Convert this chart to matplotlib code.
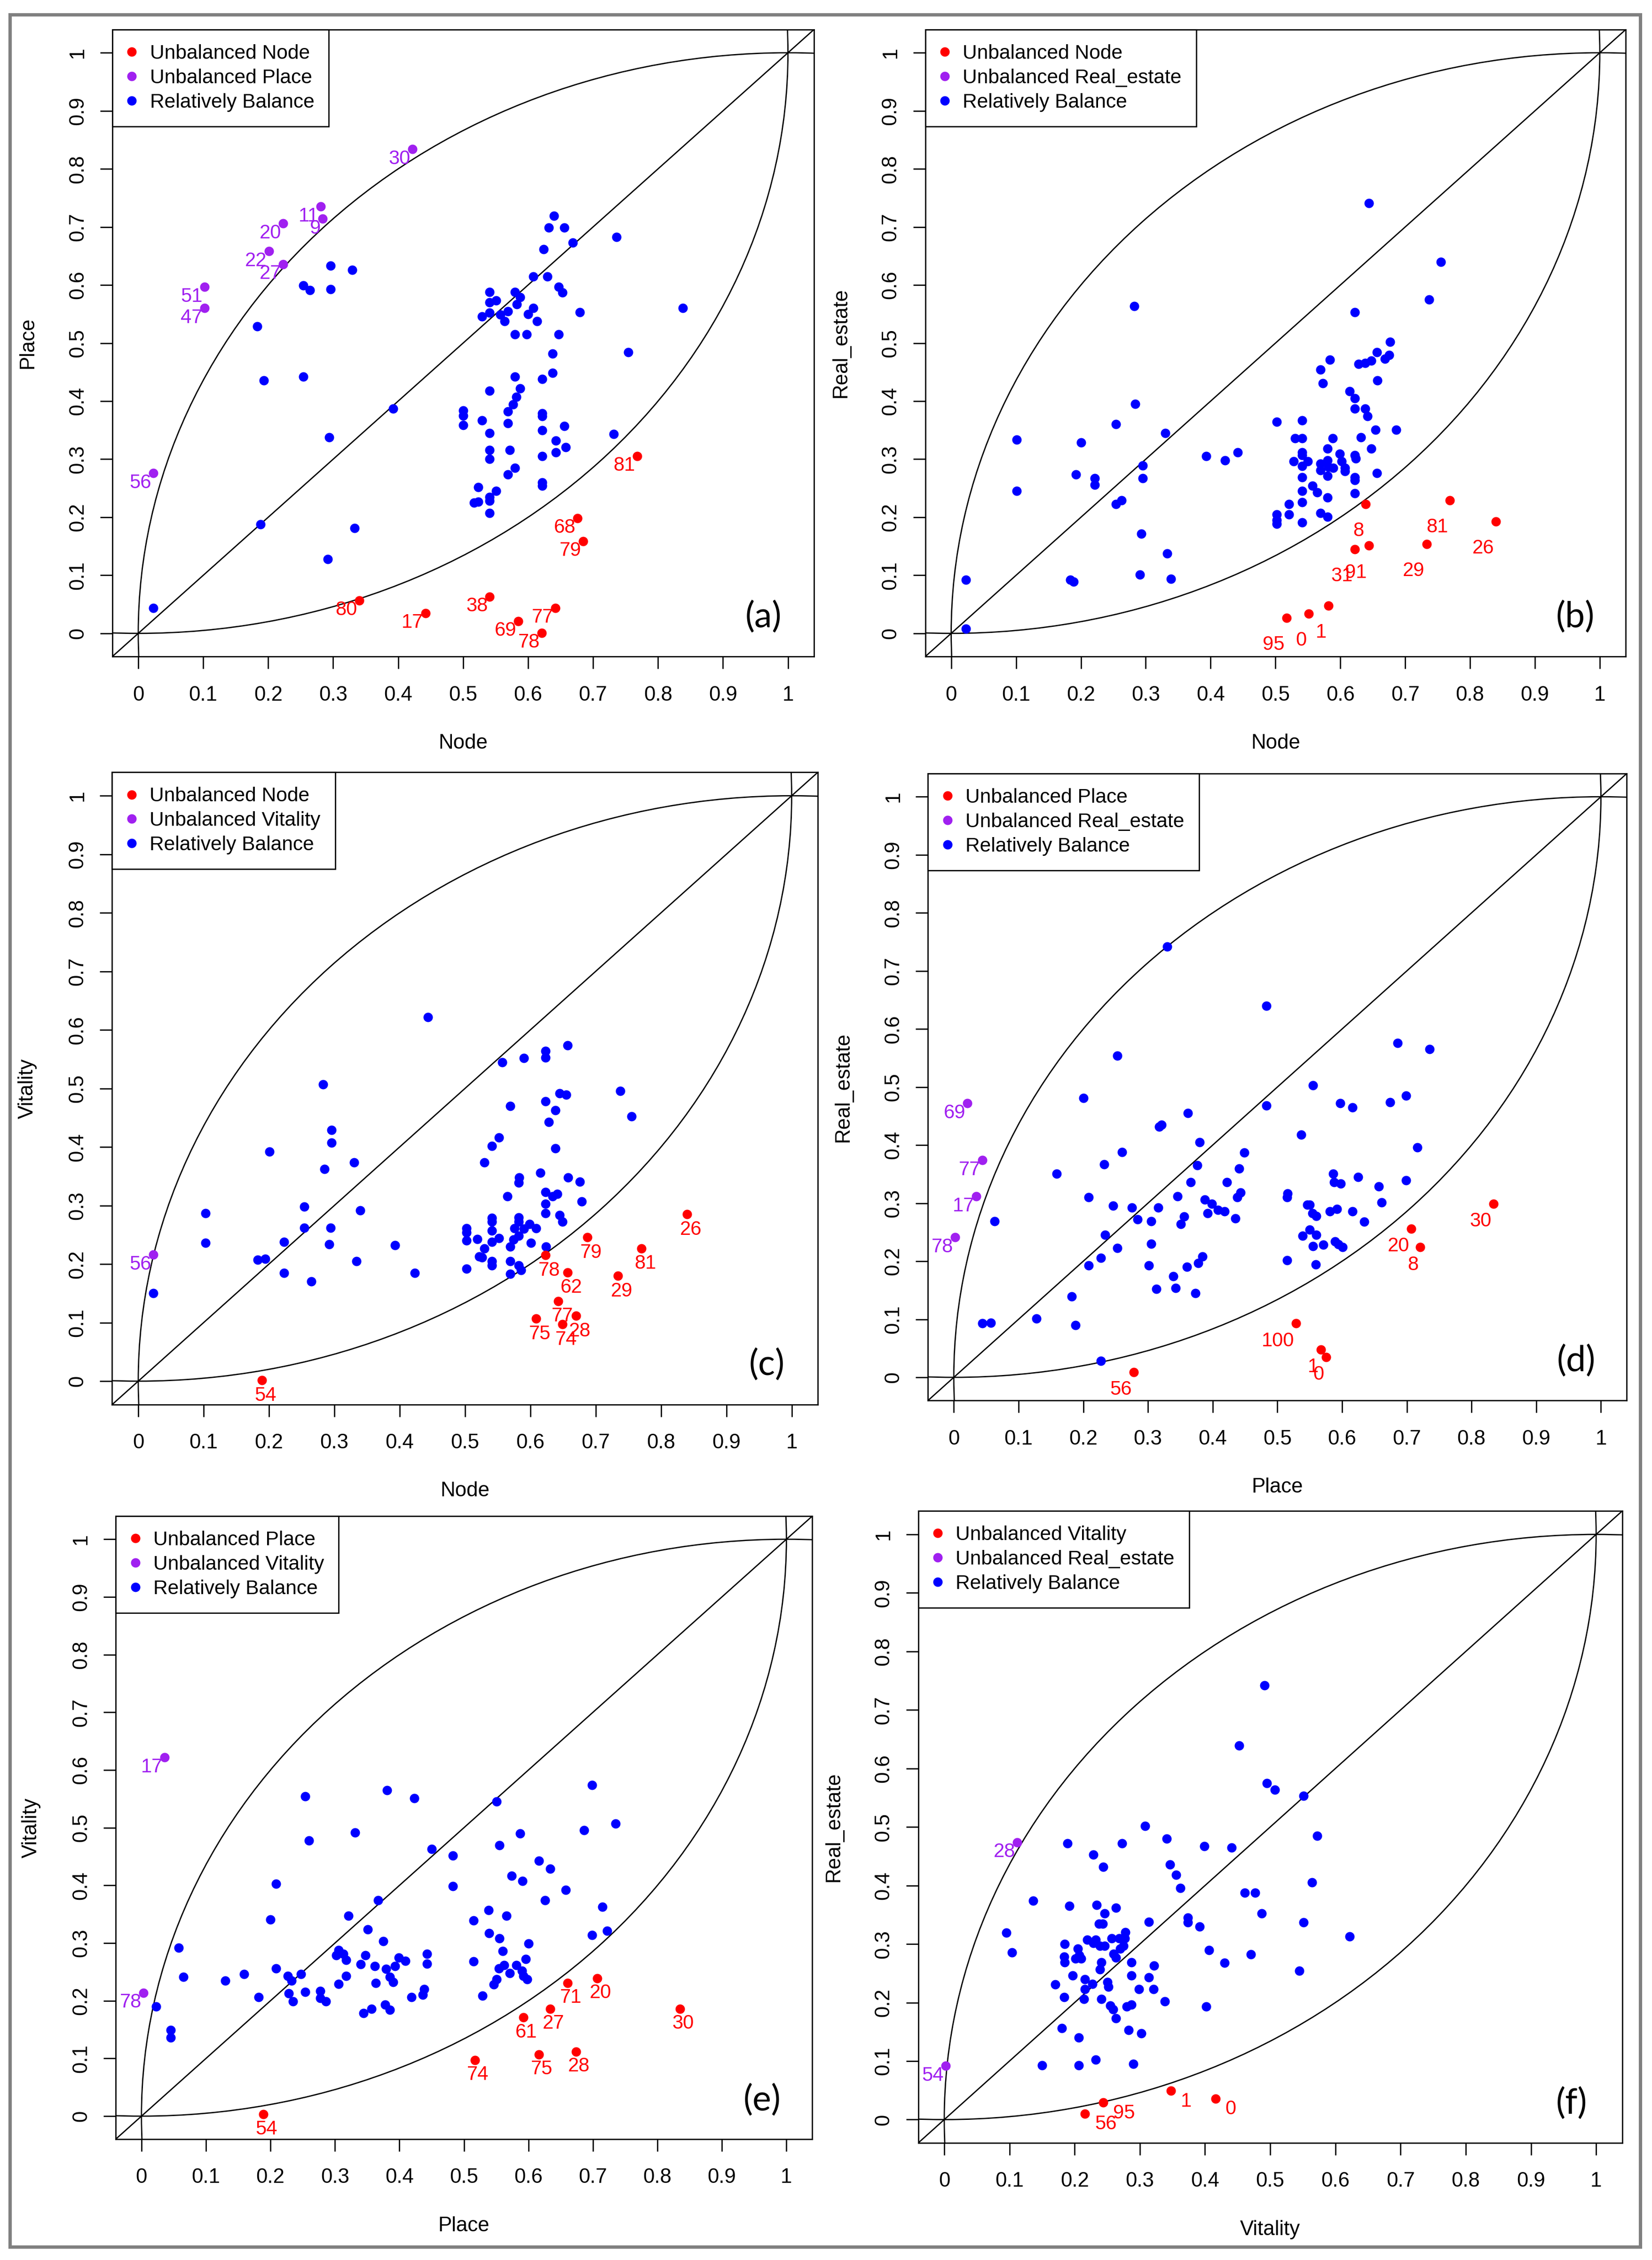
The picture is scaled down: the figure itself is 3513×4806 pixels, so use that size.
import matplotlib
matplotlib.use("Agg")
import matplotlib.pyplot as plt
from matplotlib.patches import Circle, Rectangle
from matplotlib.lines import Line2D

# ------------------------------------------------------------------ data
TICKS = [0, 0.1, 0.2, 0.3, 0.4, 0.5, 0.6, 0.7, 0.8, 0.9, 1]
TICK_LABELS = ["0", "0.1", "0.2", "0.3", "0.4", "0.5", "0.6", "0.7", "0.8", "0.9", "1"]

AXIS_NAMES = {
    "a": ("Node", "Place"),
    "b": ("Node", "Real_estate"),
    "c": ("Node", "Vitality"),
    "d": ("Place", "Real_estate"),
    "e": ("Place", "Vitality"),
    "f": ("Vitality", "Real_estate"),
}

# (a) Node vs Place
A_RED = [("81", 0.768, 0.305), ("68", 0.676, 0.198), ("79", 0.685, 0.159), ("80", 0.340, 0.057),
         ("17", 0.442, 0.035), ("38", 0.541, 0.063), ("77", 0.642, 0.044), ("69", 0.585, 0.021),
         ("78", 0.621, 0.001)]
A_PURPLE = [("30", 0.422, 0.834), ("11", 0.281, 0.735), ("9", 0.284, 0.714), ("20", 0.223, 0.706),
            ("22", 0.201, 0.658), ("27", 0.223, 0.636), ("51", 0.102, 0.597), ("47", 0.102, 0.560),
            ("56", 0.023, 0.276)]
A_BALANCE = [(0.023, 0.044), (0.183, 0.529), (0.193, 0.436), (0.188, 0.188), (0.254, 0.599),
             (0.264, 0.591), (0.254, 0.442), (0.296, 0.633), (0.296, 0.593), (0.294, 0.338),
             (0.292, 0.128), (0.329, 0.626), (0.333, 0.181), (0.392, 0.387), (0.640, 0.719),
             (0.632, 0.699), (0.656, 0.699), (0.669, 0.673), (0.624, 0.662), (0.736, 0.683),
             (0.608, 0.615), (0.630, 0.615), (0.647, 0.597), (0.653, 0.587), (0.541, 0.588),
             (0.541, 0.570), (0.551, 0.573), (0.529, 0.546), (0.541, 0.552), (0.557, 0.549),
             (0.569, 0.555), (0.564, 0.538), (0.580, 0.588), (0.588, 0.579), (0.583, 0.567),
             (0.600, 0.550), (0.608, 0.560), (0.614, 0.538), (0.680, 0.553), (0.580, 0.515),
             (0.598, 0.515), (0.647, 0.515), (0.838, 0.560), (0.754, 0.484), (0.638, 0.482),
             (0.638, 0.449), (0.580, 0.442), (0.622, 0.438), (0.541, 0.418), (0.588, 0.422),
             (0.582, 0.407), (0.577, 0.394), (0.569, 0.382), (0.500, 0.384), (0.500, 0.375),
             (0.500, 0.359), (0.529, 0.367), (0.569, 0.362), (0.622, 0.379), (0.622, 0.374),
             (0.656, 0.357), (0.622, 0.350), (0.541, 0.345), (0.643, 0.332), (0.732, 0.343),
             (0.658, 0.321), (0.541, 0.316), (0.572, 0.316), (0.643, 0.312), (0.541, 0.300),
             (0.622, 0.305), (0.580, 0.285), (0.569, 0.274), (0.622, 0.260), (0.622, 0.254),
             (0.523, 0.252), (0.551, 0.245), (0.541, 0.235), (0.541, 0.228), (0.517, 0.225),
             (0.523, 0.227), (0.541, 0.207)]

# (b) Node vs Real_estate
B_RED = [("8", 0.639, 0.223), ("81", 0.769, 0.229), ("26", 0.840, 0.193), ("29", 0.733, 0.154),
         ("31", 0.622, 0.145), ("91", 0.644, 0.151), ("95", 0.517, 0.027), ("0", 0.551, 0.034),
         ("1", 0.582, 0.048)]
B_PURPLE = []
B_BALANCE = [(0.023, 0.092), (0.023, 0.008), (0.101, 0.334), (0.101, 0.245), (0.192, 0.274),
             (0.200, 0.329), (0.221, 0.267), (0.221, 0.256), (0.184, 0.092), (0.189, 0.089),
             (0.254, 0.360), (0.254, 0.223), (0.263, 0.229), (0.282, 0.564), (0.284, 0.395),
             (0.295, 0.289), (0.295, 0.267), (0.293, 0.172), (0.291, 0.101), (0.330, 0.345),
             (0.333, 0.138), (0.339, 0.094), (0.393, 0.305), (0.422, 0.298), (0.442, 0.312),
             (0.644, 0.741), (0.755, 0.640), (0.737, 0.575), (0.622, 0.553), (0.677, 0.502),
             (0.656, 0.484), (0.675, 0.479), (0.669, 0.473), (0.648, 0.470), (0.638, 0.466),
             (0.628, 0.464), (0.584, 0.471), (0.569, 0.454), (0.573, 0.431), (0.657, 0.436),
             (0.614, 0.417), (0.622, 0.405), (0.638, 0.387), (0.622, 0.387), (0.642, 0.374),
             (0.686, 0.351), (0.654, 0.351), (0.632, 0.338), (0.502, 0.364), (0.541, 0.367),
             (0.530, 0.336), (0.541, 0.336), (0.588, 0.336), (0.580, 0.318), (0.648, 0.318),
             (0.541, 0.312), (0.541, 0.307), (0.599, 0.309), (0.622, 0.307), (0.624, 0.301),
             (0.528, 0.296), (0.550, 0.296), (0.580, 0.298), (0.602, 0.296), (0.569, 0.292),
             (0.541, 0.288), (0.582, 0.287), (0.589, 0.285), (0.607, 0.285), (0.607, 0.279),
             (0.569, 0.281), (0.580, 0.271), (0.541, 0.269), (0.622, 0.269), (0.622, 0.264),
             (0.656, 0.276), (0.622, 0.241), (0.541, 0.245), (0.557, 0.254), (0.564, 0.243),
             (0.541, 0.226), (0.580, 0.234), (0.521, 0.223), (0.521, 0.205), (0.569, 0.207),
             (0.580, 0.201), (0.502, 0.205), (0.502, 0.195), (0.502, 0.189), (0.541, 0.191)]

# (c) Node vs Vitality
C_RED = [("26", 0.840, 0.285), ("79", 0.687, 0.246), ("81", 0.770, 0.227), ("78", 0.623, 0.215),
         ("62", 0.657, 0.186), ("29", 0.734, 0.180), ("77", 0.643, 0.137), ("28", 0.670, 0.112),
         ("75", 0.609, 0.107), ("74", 0.649, 0.097), ("54", 0.189, 0.002)]
C_PURPLE = [("56", 0.023, 0.216)]
C_BALANCE = [(0.023, 0.150), (0.103, 0.287), (0.103, 0.236), (0.183, 0.207), (0.194, 0.209),
             (0.201, 0.392), (0.223, 0.238), (0.223, 0.185), (0.254, 0.298), (0.254, 0.262),
             (0.265, 0.170), (0.283, 0.507), (0.285, 0.362), (0.296, 0.429), (0.296, 0.407),
             (0.294, 0.262), (0.292, 0.234), (0.330, 0.374), (0.340, 0.292), (0.334, 0.205),
             (0.393, 0.232), (0.423, 0.185), (0.443, 0.622), (0.657, 0.574), (0.623, 0.564),
             (0.623, 0.553), (0.590, 0.552), (0.557, 0.545), (0.738, 0.496), (0.645, 0.492),
             (0.655, 0.489), (0.623, 0.478), (0.569, 0.470), (0.638, 0.463), (0.755, 0.452),
             (0.628, 0.443), (0.552, 0.416), (0.541, 0.402), (0.638, 0.398), (0.530, 0.374),
             (0.615, 0.356), (0.583, 0.348), (0.658, 0.348), (0.582, 0.339), (0.676, 0.341),
             (0.565, 0.316), (0.623, 0.323), (0.634, 0.316), (0.641, 0.320), (0.679, 0.307),
             (0.623, 0.303), (0.623, 0.287), (0.645, 0.284), (0.649, 0.272), (0.541, 0.279),
             (0.541, 0.272), (0.582, 0.280), (0.582, 0.272), (0.599, 0.268), (0.609, 0.261),
             (0.502, 0.261), (0.502, 0.254), (0.502, 0.240), (0.519, 0.243), (0.541, 0.257),
             (0.552, 0.244), (0.541, 0.238), (0.576, 0.261), (0.590, 0.260), (0.582, 0.248),
             (0.574, 0.242), (0.569, 0.230), (0.601, 0.236), (0.530, 0.227), (0.624, 0.230),
             (0.522, 0.213), (0.526, 0.211), (0.541, 0.205), (0.541, 0.198), (0.569, 0.205),
             (0.582, 0.198), (0.586, 0.190), (0.502, 0.192), (0.569, 0.183)]

# (d) Place vs Real_estate
D_RED = [("30", 0.834, 0.299), ("20", 0.707, 0.256), ("8", 0.721, 0.224), ("100", 0.529, 0.093),
         ("1", 0.567, 0.048), ("0", 0.575, 0.035), ("56", 0.278, 0.009)]
D_PURPLE = [("69", 0.021, 0.472), ("77", 0.044, 0.374), ("17", 0.035, 0.312), ("78", 0.002, 0.241)]
D_BALANCE = [(0.044, 0.093), (0.057, 0.094), (0.063, 0.269), (0.128, 0.101), (0.159, 0.351),
             (0.182, 0.139), (0.188, 0.090), (0.200, 0.481), (0.208, 0.310), (0.208, 0.193),
             (0.227, 0.206), (0.227, 0.028), (0.232, 0.367), (0.234, 0.245), (0.246, 0.296),
             (0.253, 0.554), (0.253, 0.223), (0.260, 0.388), (0.275, 0.292), (0.284, 0.272),
             (0.301, 0.193), (0.305, 0.269), (0.305, 0.230), (0.313, 0.152), (0.316, 0.292),
             (0.317, 0.432), (0.321, 0.435), (0.330, 0.742), (0.339, 0.174), (0.343, 0.154),
             (0.346, 0.312), (0.351, 0.264), (0.356, 0.277), (0.360, 0.190), (0.362, 0.455),
             (0.366, 0.336), (0.373, 0.145), (0.376, 0.365), (0.380, 0.405), (0.378, 0.197),
             (0.384, 0.208), (0.388, 0.306), (0.392, 0.283), (0.399, 0.299), (0.408, 0.288),
             (0.418, 0.286), (0.422, 0.336), (0.435, 0.274), (0.438, 0.310), (0.441, 0.360),
             (0.443, 0.318), (0.449, 0.387), (0.483, 0.640), (0.483, 0.468), (0.515, 0.202),
             (0.516, 0.317), (0.515, 0.310), (0.537, 0.418), (0.539, 0.244), (0.546, 0.297),
             (0.550, 0.297), (0.550, 0.254), (0.554, 0.283), (0.555, 0.503), (0.555, 0.226),
             (0.560, 0.278), (0.560, 0.245), (0.559, 0.194), (0.571, 0.228), (0.581, 0.286),
             (0.586, 0.351), (0.588, 0.336), (0.592, 0.290), (0.589, 0.234), (0.594, 0.229),
             (0.597, 0.472), (0.598, 0.334), (0.601, 0.224), (0.616, 0.465), (0.616, 0.286),
             (0.625, 0.345), (0.634, 0.268), (0.657, 0.329), (0.661, 0.301), (0.674, 0.474),
             (0.686, 0.576), (0.699, 0.485), (0.699, 0.339), (0.716, 0.396), (0.735, 0.565)]

# (e) Place vs Vitality
E_RED = [("71", 0.661, 0.231), ("20", 0.707, 0.239), ("27", 0.634, 0.186), ("61", 0.592, 0.171),
         ("30", 0.835, 0.186), ("74", 0.517, 0.097), ("75", 0.616, 0.107), ("28", 0.674, 0.112),
         ("54", 0.189, 0.003)]
E_PURPLE = [("17", 0.036, 0.622), ("78", 0.003, 0.214)]
E_BALANCE = [(0.023, 0.190), (0.045, 0.149), (0.045, 0.136), (0.058, 0.292), (0.065, 0.241),
             (0.130, 0.235), (0.159, 0.246), (0.182, 0.206), (0.200, 0.341), (0.209, 0.403),
             (0.209, 0.256), (0.227, 0.243), (0.228, 0.213), (0.233, 0.235), (0.235, 0.199),
             (0.247, 0.246), (0.254, 0.554), (0.254, 0.215), (0.260, 0.478), (0.277, 0.217),
             (0.277, 0.205), (0.286, 0.199), (0.302, 0.279), (0.306, 0.288), (0.306, 0.229),
             (0.313, 0.281), (0.317, 0.271), (0.317, 0.243), (0.321, 0.347), (0.331, 0.492),
             (0.340, 0.263), (0.344, 0.179), (0.347, 0.279), (0.351, 0.324), (0.357, 0.186),
             (0.362, 0.260), (0.363, 0.231), (0.367, 0.374), (0.375, 0.303), (0.378, 0.193),
             (0.381, 0.565), (0.379, 0.255), (0.385, 0.241), (0.385, 0.184), (0.390, 0.232),
             (0.393, 0.260), (0.399, 0.275), (0.409, 0.269), (0.419, 0.206), (0.423, 0.551),
             (0.436, 0.210), (0.438, 0.220), (0.443, 0.281), (0.443, 0.264), (0.450, 0.463),
             (0.483, 0.452), (0.483, 0.399), (0.515, 0.339), (0.515, 0.268), (0.529, 0.209),
             (0.538, 0.357), (0.539, 0.317), (0.546, 0.228), (0.551, 0.237), (0.551, 0.545),
             (0.555, 0.470), (0.555, 0.308), (0.554, 0.256), (0.560, 0.286), (0.562, 0.262),
             (0.566, 0.347), (0.571, 0.248), (0.574, 0.417), (0.581, 0.262), (0.587, 0.490),
             (0.591, 0.408), (0.590, 0.252), (0.592, 0.243), (0.596, 0.272), (0.598, 0.237),
             (0.600, 0.299), (0.616, 0.443), (0.626, 0.374), (0.634, 0.429), (0.658, 0.392),
             (0.686, 0.496), (0.699, 0.574), (0.699, 0.314), (0.715, 0.363), (0.722, 0.321),
             (0.735, 0.507)]

# (f) Vitality vs Real_estate
F_RED = [("1", 0.348, 0.049), ("0", 0.416, 0.036), ("95", 0.244, 0.029), ("56", 0.216, 0.010)]
F_PURPLE = [("28", 0.112, 0.474), ("54", 0.002, 0.092)]
F_BALANCE = [(0.095, 0.319), (0.104, 0.286), (0.136, 0.374), (0.150, 0.093), (0.170, 0.231),
             (0.180, 0.156), (0.184, 0.209), (0.184, 0.278), (0.185, 0.300), (0.185, 0.269),
             (0.189, 0.472), (0.192, 0.365), (0.197, 0.246), (0.201, 0.275), (0.205, 0.292),
             (0.206, 0.140), (0.206, 0.093), (0.207, 0.281), (0.210, 0.275), (0.214, 0.206),
             (0.216, 0.240), (0.216, 0.223), (0.219, 0.307), (0.227, 0.232), (0.229, 0.453),
             (0.229, 0.302), (0.232, 0.307), (0.232, 0.102), (0.234, 0.367), (0.237, 0.335),
             (0.239, 0.297), (0.239, 0.257), (0.241, 0.206), (0.241, 0.269), (0.244, 0.432),
             (0.243, 0.335), (0.246, 0.352), (0.246, 0.297), (0.250, 0.235), (0.252, 0.227),
             (0.255, 0.195), (0.257, 0.310), (0.259, 0.188), (0.260, 0.283), (0.263, 0.362),
             (0.263, 0.277), (0.263, 0.173), (0.268, 0.310), (0.270, 0.292), (0.273, 0.472),
             (0.275, 0.297), (0.277, 0.310), (0.278, 0.320), (0.280, 0.193), (0.283, 0.153),
             (0.287, 0.196), (0.287, 0.269), (0.287, 0.246), (0.290, 0.095), (0.299, 0.223),
             (0.302, 0.147), (0.308, 0.502), (0.314, 0.338), (0.314, 0.243), (0.321, 0.223),
             (0.322, 0.263), (0.338, 0.202), (0.341, 0.480), (0.346, 0.436), (0.356, 0.418),
             (0.362, 0.396), (0.374, 0.345), (0.374, 0.337), (0.392, 0.330), (0.399, 0.467),
             (0.402, 0.193), (0.406, 0.290), (0.430, 0.268), (0.441, 0.465), (0.452, 0.639),
             (0.461, 0.388), (0.470, 0.282), (0.477, 0.388), (0.487, 0.352), (0.491, 0.742),
             (0.495, 0.575), (0.507, 0.564), (0.545, 0.254), (0.551, 0.553), (0.551, 0.337),
             (0.564, 0.405), (0.572, 0.485), (0.622, 0.313)]

PANELS = {
    "a": (A_BALANCE, A_RED, A_PURPLE),
    "b": (B_BALANCE, B_RED, B_PURPLE),
    "c": (C_BALANCE, C_RED, C_PURPLE),
    "d": (D_BALANCE, D_RED, D_PURPLE),
    "e": (E_BALANCE, E_RED, E_PURPLE),
    "f": (F_BALANCE, F_RED, F_PURPLE),
}

# ------------------------------------------------------------------ layout / style
W, H, DPI = 3513, 4806, 300
# pixel positions of data 0 and 1 on x, and of data 1 (top) and 0 (bottom) on y
LAYOUT = {
    "a": (294.0, 1675.6, 112.2, 1346.9),
    "b": (2022.7, 3402.0, 112.2, 1346.9),
    "c": (294.0, 1683.5, 1692.2, 2937.1),
    "d": (2028.3, 3404.4, 1694.3, 2929.0),
    "e": (300.8, 1672.3, 3273.3, 4500.1),
    "f": (2008.0, 3394.2, 3263.0, 4507.4),
}
# red-label placement per panel: (ha, dx pt, dy pt)
RED_LABEL = {
    "a": ("right", -1.0, -4.8),
    "b": ("right", -1.0, -13.7),
    "c": ("center", 2.0, -7.9),
    "d": ("right", -1.0, -9.0),
    "e": ("center", 1.5, -7.5),
    "f": ("left", 5.0, -5.4),
}
PURPLE_LABEL = ("right", -1.0, -5.0)

RED, PURPLE, BLUE = "#FF0000", "#A020F0", "#0000FF"
MS = 4.8
LW = 0.65
FONT = ["Liberation Sans", "DejaVu Sans"]

plt.rcParams["font.family"] = FONT
plt.rcParams["axes.linewidth"] = LW

fig = plt.figure(figsize=(W / DPI, H / DPI), dpi=DPI)

for key, (x0, x1, yt, yb) in LAYOUT.items():
    sx, sy = x1 - x0, yb - yt
    left = (x0 - 0.04 * sx) / W
    bottom = 1 - (yb + 0.04 * sy) / H
    ax = fig.add_axes([left, bottom, 1.08 * sx / W, 1.08 * sy / H])
    ax.set_xlim(-0.04, 1.04)
    ax.set_ylim(-0.04, 1.04)
    ax_h_px = 1.08 * sy
    ax_w_px = 1.08 * sx

    # reference curves
    ax.add_patch(Circle((1, 0), 1, fill=False, color="black", lw=LW, zorder=1))
    ax.add_patch(Circle((0, 1), 1, fill=False, color="black", lw=LW, zorder=1))
    ax.axline((0, 0), (1, 1), color="black", lw=LW, zorder=1)

    bal, red, pur = PANELS[key]
    xname, yname = AXIS_NAMES[key]
    if bal:
        ax.plot([p[0] for p in bal], [p[1] for p in bal], "o", color=BLUE, ms=MS,
                mec="none", zorder=3)
    if red:
        ax.plot([p[1] for p in red], [p[2] for p in red], "o", color=RED, ms=MS,
                mec="none", zorder=3)
        ha, dx, dy = RED_LABEL[key]
        for lab, x, y in red:
            ax.annotate(lab, (x, y), xytext=(dx, dy), textcoords="offset points",
                        ha=ha, va="center", color=RED, fontsize=10, zorder=4)
    if pur:
        ax.plot([p[1] for p in pur], [p[2] for p in pur], "o", color=PURPLE, ms=MS,
                mec="none", zorder=3)
        ha, dx, dy = PURPLE_LABEL
        for lab, x, y in pur:
            ax.annotate(lab, (x, y), xytext=(dx, dy), textcoords="offset points",
                        ha=ha, va="center", color=PURPLE, fontsize=10, zorder=4)

    ax.set_xticks(TICKS)
    ax.set_xticklabels(TICK_LABELS)
    ax.set_yticks(TICKS)
    ax.set_yticklabels(TICK_LABELS, rotation=90, va="center")
    ax.tick_params(direction="out", length=6.2, width=LW, labelsize=10.5, pad=8.5)
    ax.tick_params(axis="y", pad=6.5)

    ax.text(0.5, -184 / ax_h_px, xname, transform=ax.transAxes, ha="center",
            va="center", fontsize=10.5)
    ax.text(-180 / ax_w_px, 0.5, yname, transform=ax.transAxes, ha="center",
            va="center", rotation=90, fontsize=10.5)

    ax.text(0.962, 0.028, f"({key})", ha="center", va="center", fontsize=18,
            family=["Lato", "DejaVu Sans"])

    handles = [
        Line2D([], [], ls="", marker="o", color=RED, ms=MS, mec="none",
               label=f"Unbalanced {xname}"),
        Line2D([], [], ls="", marker="o", color=PURPLE, ms=MS, mec="none",
               label=f"Unbalanced {yname}"),
        Line2D([], [], ls="", marker="o", color=BLUE, ms=MS, mec="none",
               label="Relatively Balance"),
    ]
    leg = ax.legend(handles=handles, loc="upper left", bbox_to_anchor=(0, 1),
                    borderaxespad=0, fontsize=10.2, frameon=True, fancybox=False,
                    edgecolor="black", framealpha=1, borderpad=0.73,
                    labelspacing=0.28, handlelength=0.5, handletextpad=0.65)
    leg.get_frame().set_linewidth(LW)
    leg.set_zorder(5)

# outer grey frame
fig.add_artist(Rectangle((21 / W, 1 - 4778 / H), (3488 - 21) / W, (4778 - 31) / H,
                         transform=fig.transFigure, fill=False, edgecolor="#808080",
                         lw=1.7))

fig.savefig("out.png", dpi=DPI)
